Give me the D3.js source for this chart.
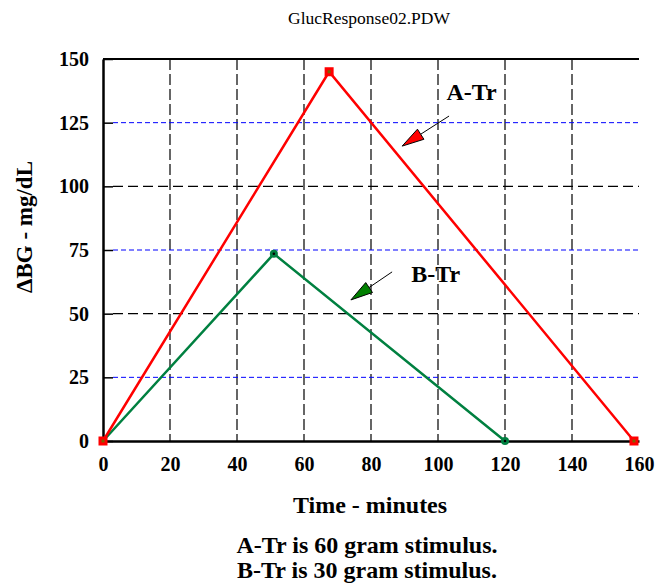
<!DOCTYPE html>
<html>
<head>
<meta charset="utf-8">
<script src="https://cdn.jsdelivr.net/npm/d3@7"></script>
<style>
	body { margin: 0; background: #fff; }
	svg { display: block; font-family: "Liberation Serif", "Times New Roman", serif; }
</style>
</head>
<body>
<div class="js-graph"></div>
<script>
(function(d3) {
	var w = 660, h = 588,
		graph = d3.select('.js-graph').append('svg').attr('width', w).attr('height', h);

	// data
	var
		seriesA = [{x: 0, y: 0}, {x: 67.5, y: 145}, {x: 158.5, y: 0}],
		seriesB = [{x: 0, y: 0}, {x: 51, y: 73.5}, {x: 120, y: 0}],
		xTicks = [0, 20, 40, 60, 80, 100, 120, 140, 160],
		yTicks = [0, 25, 50, 75, 100, 125, 150],
		blueRows = [25, 75, 125],
		labels = [
			{ text: 'A-Tr', x: 102.5, y: 134, from: [103.3, 127.6], to: [89.3, 115.8], fill: '#ff0000' },
			{ text: 'B-Tr', x: 92, y: 62.5, from: [86.3, 66.4], to: [74, 55.4], fill: '#008000' }
		],
		footer = ['A-Tr is 60 gram stimulus.', 'B-Tr is 30 gram stimulus.'];

	var x = d3.scaleLinear().domain([0, 160]).range([103, 639]),
		y = d3.scaleLinear().domain([0, 150]).range([441, 59]);

	// grid
	graph.selectAll('line.vgrid')
		.data(xTicks.slice(1, -1))
		.enter().append('line')
		.attr('x1', function(d) { return x(d); })
		.attr('x2', function(d) { return x(d); })
		.attr('y1', y(150)).attr('y2', y(0))
		.style('stroke', '#000').style('stroke-width', 1.2)
		.style('stroke-dasharray', '11,4');

	graph.selectAll('line.hgrid')
		.data(yTicks.slice(1, -1))
		.enter().append('line')
		.attr('x1', x(0) + 10).attr('x2', x(160))
		.attr('y1', function(d) { return y(d); })
		.attr('y2', function(d) { return y(d); })
		.style('stroke', function(d) { return blueRows.indexOf(d) >= 0 ? '#0000ff' : '#000'; })
		.style('stroke-width', function(d) { return blueRows.indexOf(d) >= 0 ? 1 : 1.2; })
		.style('stroke-dasharray', function(d) { return blueRows.indexOf(d) >= 0 ? '5,3' : '10,5'; });

	// axes
	var xAxis = d3.axisBottom(x).tickValues(xTicks).tickSize(0).tickPadding(13);
	var yAxis = d3.axisLeft(y).tickValues(yTicks).tickSizeInner(-10).tickSizeOuter(0).tickPadding(14);

	var gx = graph.append('g').attr('transform', 'translate(0,' + y(0) + ')').call(xAxis);
	var gy = graph.append('g').attr('transform', 'translate(' + x(0) + ',0)').call(yAxis);
	[gx, gy].forEach(function(g) {
		g.select('.domain').style('stroke', '#000').style('stroke-width', 2.5);
		g.selectAll('.tick line').style('stroke', '#000').style('stroke-width', 1.5);
		g.selectAll('text')
			.style('font-family', '"Liberation Serif", serif')
			.style('font-size', '20px').style('font-weight', 'bold').style('fill', '#000');
	});
	gx.selectAll('text').attr('dy', '0.85em');

	graph.append('line')
		.attr('x1', x(0)).attr('x2', x(160))
		.attr('y1', y(150)).attr('y2', y(150))
		.style('stroke', '#000').style('stroke-width', 2);

	// series lines
	var line = d3.line()
		.x(function(d) { return x(d.x); })
		.y(function(d) { return y(d.y); });

	graph.append('path').datum(seriesB).attr('d', line)
		.style('fill', 'none').style('stroke', '#008040').style('stroke-width', 2.5);
	graph.append('path').datum(seriesA).attr('d', line)
		.style('fill', 'none').style('stroke', '#ff0000').style('stroke-width', 2.5);

	graph.selectAll('circle.b')
		.data(seriesB).enter().append('circle')
		.attr('cx', function(d) { return x(d.x); })
		.attr('cy', function(d) { return y(d.y); })
		.attr('r', 4).attr('fill', '#008040');
	graph.selectAll('circle.bdot')
		.data(seriesB).enter().append('circle')
		.attr('cx', function(d) { return x(d.x); })
		.attr('cy', function(d) { return y(d.y); })
		.attr('r', 1.3).attr('fill', '#000');

	graph.selectAll('rect.a')
		.data(seriesA).enter().append('rect')
		.attr('x', function(d) { return x(d.x) - 4.5; })
		.attr('y', function(d) { return y(d.y) - 4.5; })
		.attr('width', 9).attr('height', 9).attr('fill', '#ff0000');
	graph.selectAll('rect.adot')
		.data(seriesA).enter().append('rect')
		.attr('x', function(d) { return x(d.x) - 1.5; })
		.attr('y', function(d) { return y(d.y) - 1.5; })
		.attr('width', 3).attr('height', 3).attr('fill', '#806000');

	// annotations with arrows
	labels.forEach(function(l) {
		var x1 = x(l.from[0]), y1 = y(l.from[1]), x2 = x(l.to[0]), y2 = y(l.to[1]);
		var ang = Math.atan2(y2 - y1, x2 - x1), len = 22, half = 6;
		var bx = x2 - len * Math.cos(ang), by = y2 - len * Math.sin(ang);
		var px = -Math.sin(ang) * half, py = Math.cos(ang) * half;
		graph.append('line')
			.attr('x1', x1).attr('y1', y1).attr('x2', bx).attr('y2', by)
			.style('stroke', '#000').style('stroke-width', 1);
		graph.append('path')
			.attr('d', 'M' + x2 + ',' + y2 + 'L' + (bx + px) + ',' + (by + py) + 'L' + (bx - px) + ',' + (by - py) + 'Z')
			.attr('fill', l.fill).style('stroke', '#000').style('stroke-width', 1);
		graph.append('text')
			.attr('x', x(l.x)).attr('y', y(l.y))
			.style('font-size', '24px').style('font-weight', 'bold')
			.text(l.text);
	});

	// titles
	graph.append('text')
		.attr('x', 369).attr('y', 24).attr('text-anchor', 'middle')
		.style('font-size', '17.5px')
		.text('GlucResponse02.PDW');

	graph.append('text')
		.attr('transform', 'translate(32,227) rotate(-90)')
		.attr('text-anchor', 'middle')
		.style('font-size', '23px').style('font-weight', 'bold')
		.text('\u0394BG - mg/dL');

	graph.append('text')
		.attr('x', 370).attr('y', 513).attr('text-anchor', 'middle')
		.style('font-size', '24px').style('font-weight', 'bold')
		.text('Time - minutes');

	graph.selectAll('text.foot')
		.data(footer).enter().append('text')
		.attr('x', 367)
		.attr('y', function(d, i) { return 553 + i * 25; })
		.attr('text-anchor', 'middle')
		.style('font-size', '24px').style('font-weight', 'bold')
		.text(function(d) { return d; });
})(d3);
</script>
</body>
</html>
